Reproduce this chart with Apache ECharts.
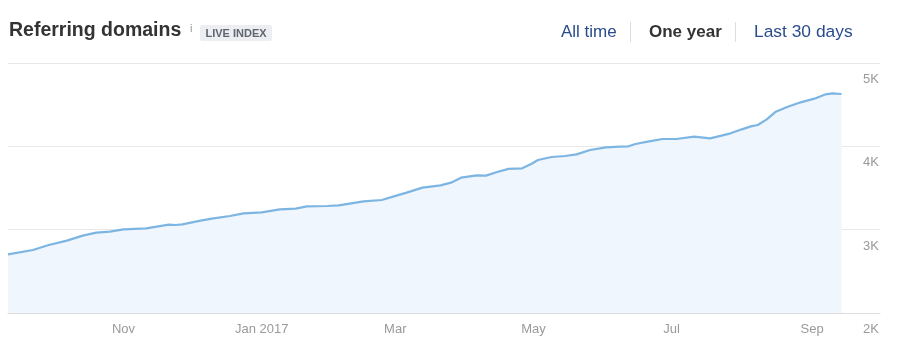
<!DOCTYPE html>
<html>
<head>
<meta charset="utf-8">
<script src="https://cdn.jsdelivr.net/npm/echarts@6/dist/echarts.min.js"></script>
<style>
html,body{margin:0;padding:0;background:#fff;}
#chart{width:901px;height:359px;}
</style>
</head>
<body>
<div id="chart"></div>
<script>
const dates = ['2016-09-11','2016-09-22','2016-09-29','2016-10-07','2016-10-14','2016-10-20','2016-10-26','2016-11-01','2016-11-11','2016-11-21','2016-11-24','2016-11-27','2016-12-05','2016-12-10','2016-12-18','2016-12-24','2017-01-01','2017-01-09','2017-01-16','2017-01-21','2017-01-30','2017-02-04','2017-02-15','2017-02-23','2017-02-28','2017-03-06','2017-03-13','2017-03-21','2017-03-26','2017-03-30','2017-04-06','2017-04-10','2017-04-15','2017-04-20','2017-04-26','2017-04-30','2017-05-03','2017-05-09','2017-05-15','2017-05-20','2017-05-26','2017-06-02','2017-06-08','2017-06-12','2017-06-15','2017-06-21','2017-06-27','2017-07-03','2017-07-11','2017-07-18','2017-07-23','2017-07-27','2017-08-01','2017-08-05','2017-08-08','2017-08-12','2017-08-16','2017-08-21','2017-08-27','2017-09-02','2017-09-07','2017-09-10','2017-09-14'];
const values = [2704,2756,2816,2868,2928,2964,2976,3004,3016,3060,3056,3064,3108,3132,3164,3196,3208,3244,3252,3280,3284,3292,3340,3356,3396,3444,3504,3532,3568,3624,3652,3648,3692,3730,3736,3788,3836,3872,3884,3904,3956,3988,3996,4000,4028,4060,4088,4088,4116,4096,4128,4156,4204,4240,4256,4324,4416,4472,4528,4572,4624,4636,4628];
const tickDates = ['2016-11-01','2017-01-01','2017-03-01','2017-05-01','2017-07-01','2017-09-01'];
const tickLabels = ['Nov','Jan 2017','Mar','May','Jul','Sep'];
const yTicks = [2000,3000,4000,5000];
const yTickLabels = ['2K','3K','4K','5K'];

const ts = s => echarts.time.parse(s).getTime();
const tickValues = tickDates.map(ts);
const seriesData = dates.map((d, i) => [ts(d), values[i]]);

const chart = echarts.init(document.getElementById('chart'), null, {renderer: 'canvas'});
const FONT = '"Liberation Sans", Arial, sans-serif';
chart.setOption({
  animation: false,
  textStyle: {fontFamily: FONT},
  grid: {left: 8, right: 21, top: 63, bottom: 46, containLabel: false},
  xAxis: {
    type: 'value',
    min: ts('2016-09-11'),
    max: ts('2017-10-01'),
    axisLine: {show: true, lineStyle: {color: '#dcdcdc', width: 1}},
    axisTick: {show: true, inside: true, length: 8, customValues: tickValues, lineStyle: {color: '#cfcfcf'}},
    axisLabel: {
      customValues: tickValues,
      color: '#9a9a9a', fontSize: 13, fontFamily: FONT, margin: 10,
      formatter: v => { const i = tickValues.indexOf(v); return i >= 0 ? tickLabels[i] : ''; }
    },
    splitLine: {show: false}
  },
  yAxis: {
    type: 'value',
    position: 'right',
    min: 2000, max: 5000, interval: 1000,
    axisLine: {show: false},
    axisTick: {show: false},
    splitLine: {show: true, lineStyle: {color: '#e8e8e8', width: 1}},
    axisLabel: {
      inside: true, margin: 1, align: 'right', verticalAlign: 'top',
      padding: [10, 0, 0, 0],
      color: '#9a9a9a', fontSize: 13, fontFamily: FONT,
      formatter: v => { const i = yTicks.indexOf(v); return i >= 0 ? yTickLabels[i] : ''; }
    }
  },
  series: [{
    type: 'line',
    data: seriesData,
    showSymbol: false,
    symbol: 'none',
    lineStyle: {color: '#7db5e2', width: 2.2},
    areaStyle: {color: '#eff6fd', opacity: 1},
    z: 3
  }],
  graphic: [
    {type: 'text', x: 9, y: 30.5, style: {text: 'Referring domains', font: 'bold 19.5px ' + FONT, fill: '#333', align: 'left', verticalAlign: 'middle'}},
    {type: 'text', x: 190, y: 23, style: {text: 'i', font: '11px ' + FONT, fill: '#999', align: 'left', verticalAlign: 'top'}},
    {type: 'rect', shape: {x: 200, y: 25, width: 72, height: 16, r: 2}, style: {fill: '#eceef2'}},
    {type: 'text', x: 236, y: 33.5, style: {text: 'LIVE INDEX', font: 'bold 11px ' + FONT, fill: '#606570', align: 'center', verticalAlign: 'middle'}},
    {type: 'text', x: 561, y: 32, style: {text: 'All time', font: '17px ' + FONT, fill: '#2a4c8c', align: 'left', verticalAlign: 'middle'}},
    {type: 'rect', shape: {x: 630, y: 22, width: 1, height: 20}, style: {fill: '#dddddd'}},
    {type: 'text', x: 649, y: 32, style: {text: 'One year', font: 'bold 17px ' + FONT, fill: '#333', align: 'left', verticalAlign: 'middle'}},
    {type: 'rect', shape: {x: 735, y: 22, width: 1, height: 20}, style: {fill: '#dddddd'}},
    {type: 'text', x: 754, y: 32, style: {text: 'Last 30 days', font: '17.4px ' + FONT, fill: '#2a4c8c', align: 'left', verticalAlign: 'middle'}}
  ]
});
</script>
</body>
</html>
